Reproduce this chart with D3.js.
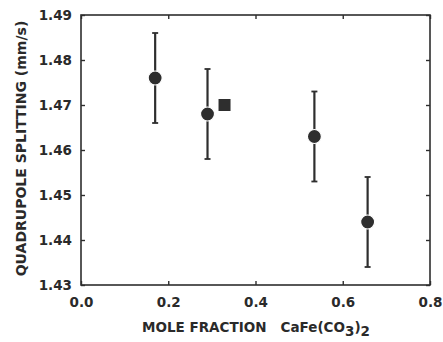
<!DOCTYPE html>
<html><head><meta charset="utf-8">
<script src="https://cdn.jsdelivr.net/npm/d3@7"></script>
<style>
body{margin:0;background:#fff;}
text{font-family:"DejaVu Sans",Arial,sans-serif;fill:#2a2a2a;}
</style></head>
<body><svg id="c" width="443" height="342"></svg>
<script>
const moleFraction = [0.170, 0.290, 0.535, 0.657];
const splitting    = [1.476, 1.468, 1.463, 1.444];
const errors       = [0.010, 0.010, 0.010, 0.010];
const squareX = [0.329];
const squareY = [1.470];
const xTicks = [0.0, 0.2, 0.4, 0.6, 0.8];
const yTicks = [1.43, 1.44, 1.45, 1.46, 1.47, 1.48, 1.49];

const svg = d3.select("#c");
const L=81, R=430, T=15, B=285;
const x = d3.scaleLinear().domain([0,0.8]).range([L,R]);
const y = d3.scaleLinear().domain([1.43,1.49]).range([B,T]);
const col="#2e2e2e";

svg.append("rect").attr("x",L).attr("y",T).attr("width",R-L).attr("height",B-T)
  .attr("fill","none").attr("stroke",col).attr("stroke-width",1.6);

const tl=4;
const gB = svg.append("g").attr("transform",`translate(0,${B})`)
  .call(d3.axisBottom(x).tickValues(xTicks).tickSizeInner(-tl).tickSizeOuter(0).tickPadding(12).tickFormat(d3.format(".1f")));
const gT = svg.append("g").attr("transform",`translate(0,${T})`)
  .call(d3.axisTop(x).tickValues(xTicks).tickSizeInner(-tl).tickSizeOuter(0).tickFormat(""));
const gL = svg.append("g").attr("transform",`translate(${L},0)`)
  .call(d3.axisLeft(y).tickValues(yTicks).tickSizeInner(-tl).tickSizeOuter(0).tickPadding(9).tickFormat(d3.format(".2f")));
const gR = svg.append("g").attr("transform",`translate(${R},0)`)
  .call(d3.axisRight(y).tickValues(yTicks).tickSizeInner(-tl).tickSizeOuter(0).tickFormat(""));
[gB,gT,gL,gR].forEach(g=>{
  g.select(".domain").remove();
  g.selectAll("line").attr("stroke",col).attr("stroke-width",1.4);
  g.selectAll("text").style("font-size","13.5px").style("font-weight","bold").attr("fill","#2a2a2a");
});
gB.selectAll("text").attr("dy","0.71em");

// error bars
const pts = moleFraction.map((m,i)=>({x:m,y:splitting[i],e:errors[i]}));
const eb = svg.append("g");
pts.forEach(p=>{
  eb.append("line").attr("x1",x(p.x)).attr("x2",x(p.x)).attr("y1",y(p.y-p.e)).attr("y2",y(p.y+p.e))
    .attr("stroke",col).attr("stroke-width",2.2);
  [p.y-p.e,p.y+p.e].forEach(v=>eb.append("line").attr("x1",x(p.x)-3).attr("x2",x(p.x)+3)
    .attr("y1",y(v)).attr("y2",y(v)).attr("stroke",col).attr("stroke-width",1.8));
});
svg.append("g").selectAll("circle").data(pts).join("circle")
  .attr("cx",d=>x(d.x)).attr("cy",d=>y(d.y)).attr("r",7)
  .attr("fill",col).attr("stroke","#fff").attr("stroke-width",1.2);
svg.append("g").selectAll("rect").data(squareX.map((s,i)=>({x:s,y:squareY[i]}))).join("rect")
  .attr("x",d=>x(d.x)-6).attr("y",d=>y(d.y)-6).attr("width",12).attr("height",12).attr("fill",col);

// axis titles
const xt = svg.append("text").attr("x",256).attr("y",332).attr("text-anchor","middle")
  .style("font-size","13.5px").style("font-weight","bold").style("white-space","pre");
xt.append("tspan").text("MOLE FRACTION   CaFe(CO");
xt.append("tspan").attr("dy",4).text("3");
xt.append("tspan").attr("dy",-4).text(")");
xt.append("tspan").attr("dy",4).text("2");

svg.append("text").attr("transform","translate(26,148.5) rotate(-90)").attr("text-anchor","middle")
  .style("font-size","14px").style("font-weight","bold").text("QUADRUPOLE SPLITTING (mm/s)");
</script></body></html>
